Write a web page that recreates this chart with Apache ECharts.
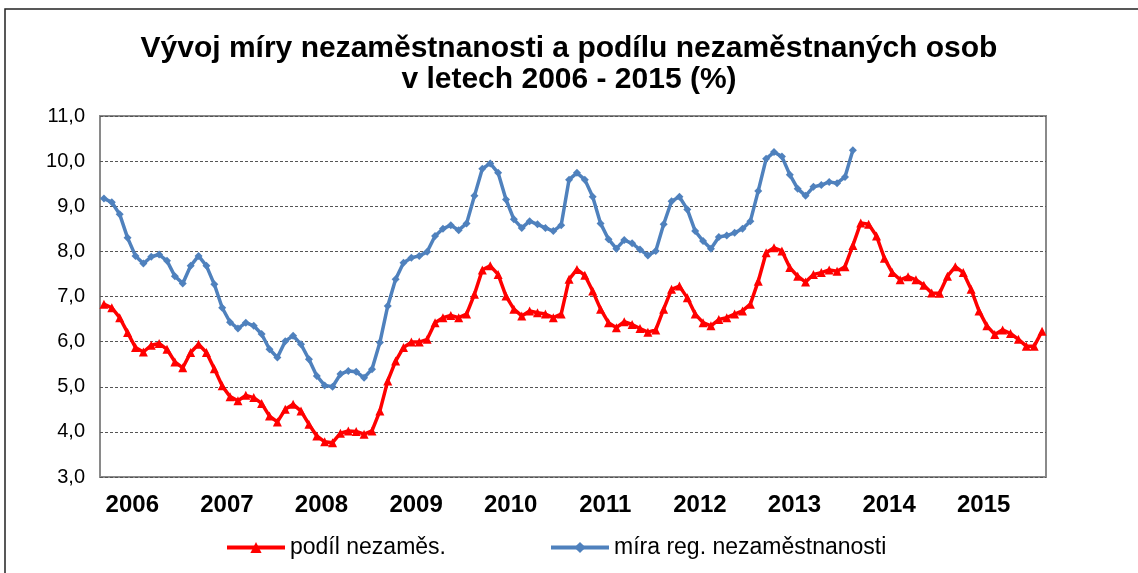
<!DOCTYPE html>
<html>
<head>
<meta charset="utf-8">
<script src="https://cdn.jsdelivr.net/npm/echarts@6/dist/echarts.min.js"></script>
<style>
    html, body { margin: 0; padding: 0; background: #fff; }
    #chart { width: 1138px; height: 573px; }
</style>
</head>
<body>
<div id="chart"></div>
<script>
    // roky na ose x
    var years = ['2006', '2007', '2008', '2009', '2010', '2011', '2012', '2013', '2014', '2015'];
    var yTicks = [3, 4, 5, 6, 7, 8, 9, 10, 11];

    // podíl nezaměstnaných osob (měsíčně 2006-2015)
    var podil = [
        6.83, 6.75, 6.53, 6.20, 5.87, 5.77, 5.92, 5.96, 5.83, 5.55, 5.42, 5.76,
        5.94, 5.76, 5.40, 5.02, 4.78, 4.69, 4.81, 4.76, 4.63, 4.35, 4.22, 4.50,
        4.61, 4.46, 4.17, 3.91, 3.78, 3.76, 3.97, 4.02, 4.01, 3.95, 4.02, 4.46,
        5.13, 5.57, 5.87, 5.99, 5.99, 6.05, 6.42, 6.53, 6.58, 6.53, 6.61, 7.05,
        7.59, 7.68, 7.49, 7.01, 6.72, 6.57, 6.68, 6.64, 6.61, 6.53, 6.61, 7.38,
        7.60, 7.47, 7.12, 6.72, 6.42, 6.31, 6.44, 6.38, 6.29, 6.21, 6.26, 6.72,
        7.16, 7.23, 6.97, 6.61, 6.42, 6.35, 6.49, 6.53, 6.61, 6.68, 6.83, 7.34,
        7.97, 8.08, 8.01, 7.64, 7.45, 7.32, 7.49, 7.53, 7.59, 7.56, 7.66, 8.13,
        8.63, 8.60, 8.34, 7.85, 7.53, 7.37, 7.44, 7.37, 7.25, 7.08, 7.07, 7.45,
        7.66, 7.53, 7.16, 6.68, 6.35, 6.16, 6.26, 6.18, 6.05, 5.90, 5.90, 6.23
    ];

    // míra registrované nezaměstnanosti (měsíčně 2006-2013)
    var mira = [
        9.17, 9.09, 8.82, 8.30, 7.90, 7.73, 7.88, 7.93, 7.79, 7.45, 7.29, 7.68,
        7.90, 7.68, 7.27, 6.75, 6.43, 6.29, 6.42, 6.35, 6.17, 5.83, 5.65, 6.01,
        6.13, 5.94, 5.61, 5.24, 5.03, 5.00, 5.28, 5.35, 5.33, 5.20, 5.39, 5.98,
        6.79, 7.38, 7.75, 7.86, 7.90, 7.99, 8.34, 8.50, 8.58, 8.47, 8.62, 9.23,
        9.83, 9.95, 9.74, 9.15, 8.71, 8.52, 8.67, 8.60, 8.52, 8.45, 8.58, 9.59,
        9.74, 9.59, 9.21, 8.62, 8.27, 8.06, 8.25, 8.18, 8.04, 7.91, 8.01, 8.60,
        9.11, 9.21, 8.93, 8.45, 8.23, 8.06, 8.32, 8.35, 8.41, 8.50, 8.67, 9.34,
        10.05, 10.20, 10.10, 9.70, 9.39, 9.23, 9.43, 9.47, 9.54, 9.51, 9.65, 10.24
    ];

    var months = [];
    years.forEach(function (y) {
        for (var m = 1; m <= 12; m++) {
            months.push(y + '-' + (m < 10 ? '0' + m : m));
        }
    });

    var chart = echarts.init(document.getElementById('chart'));
    chart.setOption({
        animation: false,
        backgroundColor: '#fff',
        textStyle: { fontFamily: '"Liberation Sans", Arial, sans-serif' },
        title: {
            text: 'Vývoj míry nezaměstnanosti a podílu nezaměstnaných osob\nv letech 2006 - 2015 (%)',
            left: 'center',
            top: 28,
            textStyle: {
                fontSize: 30,
                fontWeight: 'bold',
                color: '#000',
                lineHeight: 31
            }
        },
        graphic: [{
            type: 'rect',
            shape: { x: 5, y: 9, width: 1200, height: 700 },
            style: { fill: 'none', stroke: '#222', lineWidth: 1.5 },
            silent: true
        }],
        legend: [{
            data: ['podíl nezaměs.'],
            left: 220,
            top: 531,
            itemWidth: 58,
            itemHeight: 14,
            lineStyle: { width: 4 },
            textStyle: { fontSize: 23, color: '#000' }
        }, {
            data: ['míra reg. nezaměstnanosti'],
            left: 544,
            top: 531,
            itemWidth: 58,
            itemHeight: 14,
            lineStyle: { width: 4 },
            textStyle: { fontSize: 23, color: '#000' }
        }],
        grid: {
            left: 100,
            right: 92,
            top: 116,
            bottom: 96,
            show: true,
            borderColor: '#8a8a8a',
            borderWidth: 2,
            backgroundColor: '#fff'
        },
        xAxis: [{
            type: 'category',
            data: months,
            boundaryGap: true,
            axisLine: { show: false },
            axisTick: { show: false },
            axisLabel: { show: false },
            splitLine: { show: false }
        }, {
            type: 'category',
            data: years,
            position: 'bottom',
            axisLine: { show: false },
            axisTick: { show: false },
            splitLine: { show: false },
            axisLabel: {
                margin: 16,
                fontSize: 24,
                fontWeight: 'bold',
                color: '#000',
                padding: [0, 30, 0, 0]
            }
        }],
        yAxis: {
            type: 'value',
            min: yTicks[0],
            max: yTicks[yTicks.length - 1],
            interval: 1,
            axisLine: { show: false },
            axisTick: { show: false },
            axisLabel: {
                margin: 15,
                fontSize: 20,
                color: '#000',
                formatter: function (v) {
                    return v.toFixed(1).replace('.', ',');
                }
            },
            splitLine: {
                lineStyle: { color: '#555', type: [3, 2], width: 1.2 }
            }
        },
        series: [{
            name: 'podíl nezaměs.',
            type: 'line',
            xAxisIndex: 0,
            data: podil,
            symbol: 'triangle',
            symbolSize: 9,
            showAllSymbol: true,
            lineStyle: { color: '#ff0000', width: 3.5 },
            itemStyle: { color: '#ff0000' }
        }, {
            name: 'míra reg. nezaměstnanosti',
            type: 'line',
            xAxisIndex: 0,
            data: mira,
            symbol: 'diamond',
            symbolSize: 8,
            showAllSymbol: true,
            lineStyle: { color: '#4f81bd', width: 3.5 },
            itemStyle: { color: '#4f81bd' }
        }]
    });
</script>
</body>
</html>
